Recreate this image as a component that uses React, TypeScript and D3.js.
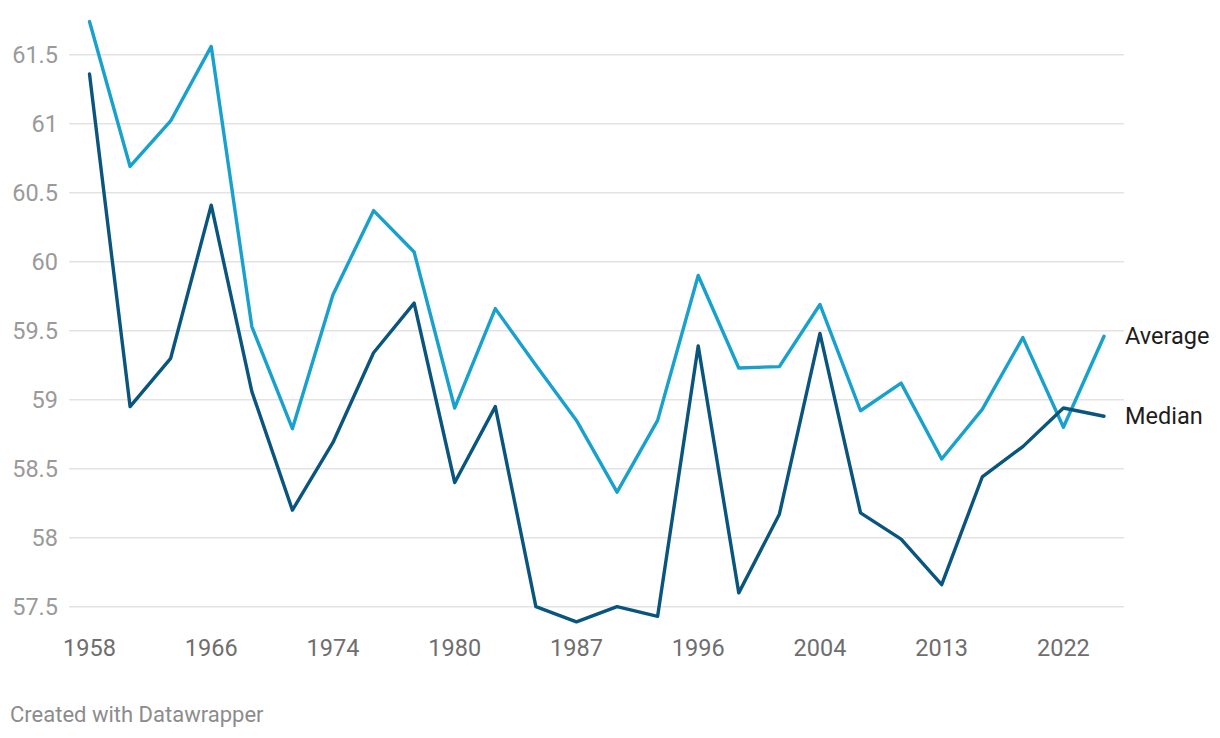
import React from "react";
import * as d3 from "d3";

const years = ["1958","1961","1963","1966","1968","1971","1974","1976","1978","1980","1983","1985","1987","1990","1993","1996","1998","2001","2004","2007","2010","2013","2016","2019","2022","2025"];
const tickYears = ["1958","1966","1974","1980","1987","1996","2004","2013","2022"];
const yTicks = [57.5, 58, 58.5, 59, 59.5, 60, 60.5, 61, 61.5];
const averageValues = [61.74,60.69,61.02,61.56,59.53,58.79,59.76,60.37,60.07,58.94,59.66,59.25,58.85,58.33,58.85,59.9,59.23,59.24,59.69,58.92,59.12,58.57,58.93,59.45,58.8,59.46];
const medianValues = [61.36,58.95,59.3,60.41,59.06,58.2,58.69,59.34,59.7,58.4,58.95,57.5,57.39,57.5,57.43,59.39,57.6,58.17,59.48,58.18,57.99,57.66,58.44,58.66,58.94,58.88];
const seriesNames = ["Average", "Median"];
const colors = ["#18a1cd", "#09557d"];

export default function App() {
  const W = 1220, H = 738;
  const x = d3.scalePoint<string>().domain(years).range([89.5, 1104]);
  const y = d3.scaleLinear().domain([57.5, 61.5]).range([606.7, 54.7]);
  const line = d3.line<number>().x((_, i) => x(years[i]) as number).y((d) => y(d));
  const series = [averageValues, medianValues];
  const font = "Roboto, 'Noto Sans', sans-serif";
  return (
    <div style={{ position: "absolute", left: 0, top: 0 }}>
      <svg width={W} height={H} style={{ display: "block", background: "#fff" }} fontFamily={font}>
        {yTicks.map((t) => (
          <g key={t}>
            <line x1={69} x2={1124} y1={y(t)} y2={y(t)} stroke="#e3e3e3" strokeWidth={1.4} />
            <text x={58} y={y(t)} dy="0.35em" textAnchor="end" fontSize={23.5} fill="#9a9a9a">
              {String(t)}
            </text>
          </g>
        ))}
        {tickYears.map((t) => (
          <text key={t} x={x(t)} y={656} textAnchor="middle" fontSize={23.5} fill="#6e6e6e">
            {t}
          </text>
        ))}
        {series.map((s, i) => (
          <path key={i} d={line(s) || ""} fill="none" stroke={colors[i]} strokeWidth={3.4} strokeLinejoin="round" strokeLinecap="round" />
        ))}
        {series.map((s, i) => (
          <text key={"l" + i} x={1125} y={y(s[s.length - 1])} dy="0.35em" fontSize={23.5} fill="#1d1d1d">
            {seriesNames[i]}
          </text>
        ))}
        <text x={10} y={722} fontSize={22} fill="#8c8c8c">Created with Datawrapper</text>
      </svg>
    </div>
  );
}
